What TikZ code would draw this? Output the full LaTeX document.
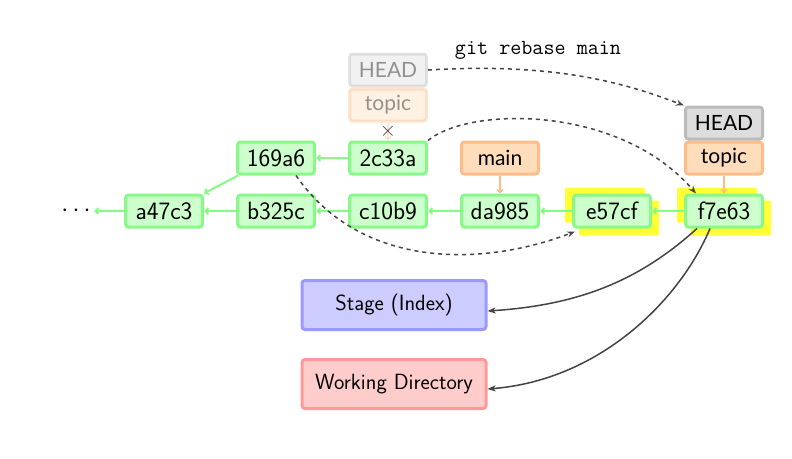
\documentclass[tikz,border=0pt]{standalone}
\usepackage{fontspec}
\newfontfamily\lato{Lato}
\usetikzlibrary{arrows.meta}
\definecolor{gfill}{HTML}{CCFFCC}
\definecolor{gdraw}{HTML}{88F888}
\definecolor{ofill}{HTML}{FFDDBB}
\definecolor{odraw}{HTML}{FFBB88}
\definecolor{hfill}{HTML}{DDDDDD}
\definecolor{hdraw}{HTML}{BBBBBB}
\definecolor{sfill}{HTML}{CCCCFF}
\definecolor{sdraw}{HTML}{9999FF}
\definecolor{wfill}{HTML}{FFCCCC}
\definecolor{wdraw}{HTML}{FF9999}
\definecolor{hl}{HTML}{FFFF33}
\definecolor{dk}{HTML}{444444}
\begin{document}
\begin{tikzpicture}[x=1pt,y=-1pt,
  box/.style={line width=3pt,rounded corners=3pt,inner sep=0pt,minimum width=77pt,minimum height=32pt},
  commit/.style={box,draw=gdraw,fill=gfill,font=\sffamily\fontsize{25}{27}\selectfont},
  branch/.style={box,draw=odraw,fill=ofill,font=\lato\fontsize{21}{24}\selectfont},
  headb/.style={box,draw=hdraw,fill=hfill,font=\lato\fontsize{21}{24}\selectfont},
  area/.style={line width=3pt,rounded corners=3pt,inner sep=0pt,minimum width=184pt,minimum height=49pt,font=\sffamily\fontsize{22}{24}\selectfont},
  faded/.style={opacity=0.4},
  hilite/.style={fill=hl,rounded corners=2pt,minimum width=80pt,minimum height=35pt,inner sep=0pt},
  parent/.style={draw=gdraw,line width=2pt,-{Straight Barb[length=3pt,width=6pt]}},
  ptr/.style={draw=odraw,line width=1.5pt,-{Straight Barb[length=3pt,width=6pt]}},
  move/.style={draw=dk,line width=1.5pt,dash pattern=on 4pt off 4pt,-{Stealth[length=8pt,width=6pt]}},
  touch/.style={draw=dk,line width=1.5pt,-{Stealth[length=8pt,width=6pt,inset=2pt]}}]
\useasboundingbox (0,0) rectangle (792,458);
% highlights
\node[hilite] (h1) at (605,205) {};
\node[hilite] (h2) at (619,218) {};
\node[hilite] (h3) at (717,205) {};
\node[hilite] (h4) at (731,218) {};
% commits
\node[font=\fontsize{24}{26}\selectfont] (dots) at (76,211) {$\cdots$};
\node[commit] (a47c3) at (164,211) {a47c3};
\node[commit] (b325c) at (276,211) {b325c};
\node[commit] (c10b9) at (388,211) {c10b9};
\node[commit] (da985) at (500,211) {da985};
\node[commit] (e57cf) at (612,211) {e57cf};
\node[commit] (f7e63) at (724,211) {f7e63};
\node[commit] (169a6) at (276,158) {169a6};
\node[commit] (2c33a) at (388,158) {2c33a};
% branches
\node[branch] (main) at (500,158) {main};
\node[branch] (topic) at (724,158) {topic};
\node[headb] (head) at (724,123) {HEAD};
\node[headb,faded] (oldhead) at (388,70) {HEAD};
\node[branch,faded] (oldtopic) at (388,105) {topic};
% areas
\node[area,draw=sdraw,fill=sfill] (stage) at (394,305) {Stage (Index)};
\node[area,draw=wdraw,fill=wfill] (wd) at (394,384) {Working Directory};
% command
\node[font=\ttfamily\fontsize{21.5}{24}\selectfont] (cmd) at (538,50) {git rebase main};
% parent links
\draw[parent] (a47c3) -- (dots);
\draw[parent] (b325c) -- (a47c3);
\draw[parent] (c10b9) -- (b325c);
\draw[parent] (da985) -- (c10b9);
\draw[parent] (e57cf) -- (da985);
\draw[parent] (f7e63) -- (e57cf);
\draw[parent] (2c33a) -- (169a6);
\draw[parent] (169a6.south west) ++(2,0) coordinate (s169) -- (a47c3.north east);
% branch pointers
\draw[ptr] (main) -- (da985);
\draw[ptr] (topic) -- (f7e63);
\draw[ptr,faded] (oldtopic) -- (2c33a);
\node[text=dk,font=\fontsize{22}{24}\selectfont] (cross) at (388,131) {$\times$};
% rebase moves
\draw[move] (oldhead.east) .. controls (560,62) and (630,85) .. (head.north west);
\draw[move] (2c33a.north east) .. controls (470,106) and (620,105) .. ([xshift=12pt]f7e63.north west);
\draw[move] ([xshift=20pt]169a6.south) .. controls (360,268) and (480,268) .. ([shift={(3pt,-3pt)}]e57cf.south west);
% working tree
\draw[touch] ([xshift=-27pt]f7e63.south) .. controls (640,280) and (580,305) .. ([yshift=-6pt]stage.east);
\draw[touch] ([xshift=-14pt]f7e63.south) .. controls (680,300) and (600,380) .. ([yshift=-5pt]wd.east);
\end{tikzpicture}
\end{document}
